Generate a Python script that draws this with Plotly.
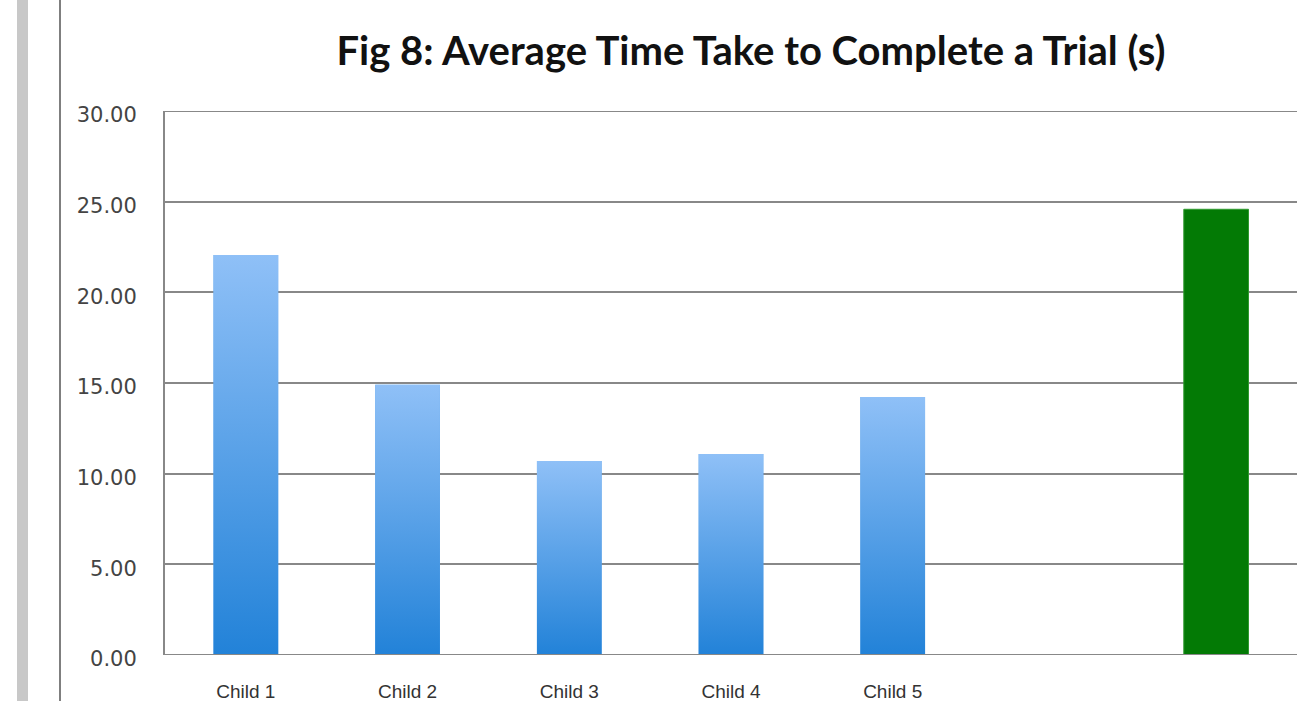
import plotly.graph_objects as go

categories = ["Child 1", "Child 2", "Child 3", "Child 4", "Child 5", "", ""]
child_values = [22.06, 14.90, 10.70, 11.09, 14.23]
green_value = 24.58
y_ticks = [0, 5, 10, 15, 20, 25, 30]
y_tick_labels = ["%.2f" % v for v in y_ticks]

BAR_W = 0.40
TOP_BLUE = "#8fc0f7"
BOTTOM_BLUE = "#2282d8"
GREEN = "#037a05"
GRID = "#888888"

fig = go.Figure()

fig.add_trace(go.Bar(
    x=list(range(len(child_values))), y=child_values, width=BAR_W,
    marker=dict(color="#5aa2e8", line=dict(width=0)), showlegend=False,
    hoverinfo="y"))
fig.add_trace(go.Bar(
    x=[len(categories) - 1], y=[green_value], width=BAR_W,
    marker=dict(color=GREEN, line=dict(color="#2f9a2f", width=1)), showlegend=False,
    hoverinfo="y"))

for i, v in enumerate(child_values):
    x0, x1 = i - BAR_W / 2, i + BAR_W / 2
    fig.add_trace(go.Scatter(
        x=[x0, x1, x1, x0, x0], y=[0, 0, v, v, 0],
        mode="lines", line=dict(width=0), fill="toself",
        fillgradient=dict(type="vertical",
                          colorscale=[[0, BOTTOM_BLUE], [1, TOP_BLUE]]),
        showlegend=False, hoverinfo="skip"))

fig.update_layout(
    width=1303, height=701,
    margin=dict(l=165, r=6, t=111, b=46),
    paper_bgcolor="white", plot_bgcolor="white",
    title=dict(text="<b>Fig 8: Average Time Take to Complete a Trial (s)</b>",
               x=751 / 1303, xanchor="center", y=1 - 51 / 701, yanchor="middle",
               font=dict(family="Lato, Open Sans, sans-serif", size=40, color="#111111")),
    font=dict(family="DejaVu Sans", color="#444444"),
)

fig.update_xaxes(
    range=[-0.5, len(categories) - 0.5], automargin=False,
    tickmode="array", tickvals=list(range(len(categories))), ticktext=categories,
    tickfont=dict(family="Liberation Sans Narrow, Arial Narrow, sans-serif", size=19, color="#333333"),
    showgrid=False, zeroline=False, showline=False, ticks="",
    ticklabelstandoff=23,
)
fig.update_yaxes(
    range=[0, 30], automargin=False,
    tickmode="array", tickvals=y_ticks, ticktext=y_tick_labels,
    tickfont=dict(family="DejaVu Sans", size=21, color="#444444"),
    showgrid=True, gridcolor=GRID, gridwidth=2,
    zeroline=False, showline=True, linecolor=GRID, linewidth=2,
    ticks="", ticklabelstandoff=22, ticklabelshift=4,
)

# Lines at 0 and at 30 (range edges)
for yv in (y_ticks[0], y_ticks[-1]):
    fig.add_shape(type="line", xref="paper", yref="y", x0=0, x1=1, y0=yv, y1=yv,
                  line=dict(color=GRID, width=2), layer="above")

# Screenshot frame decoration on the left
ytop = (701 - 46) / 544
fig.add_shape(type="rect", xref="paper", yref="paper",
              x0=(17 - 165) / 1132, x1=(28 - 165) / 1132, y0=-46 / 544, y1=ytop,
              fillcolor="#c8c8c8", line=dict(width=0))
fig.add_shape(type="line", xref="paper", yref="paper",
              x0=(60 - 165) / 1132, x1=(60 - 165) / 1132, y0=-46 / 544, y1=ytop,
              line=dict(color="#555555", width=1.5))

fig.write_html("out.html")
